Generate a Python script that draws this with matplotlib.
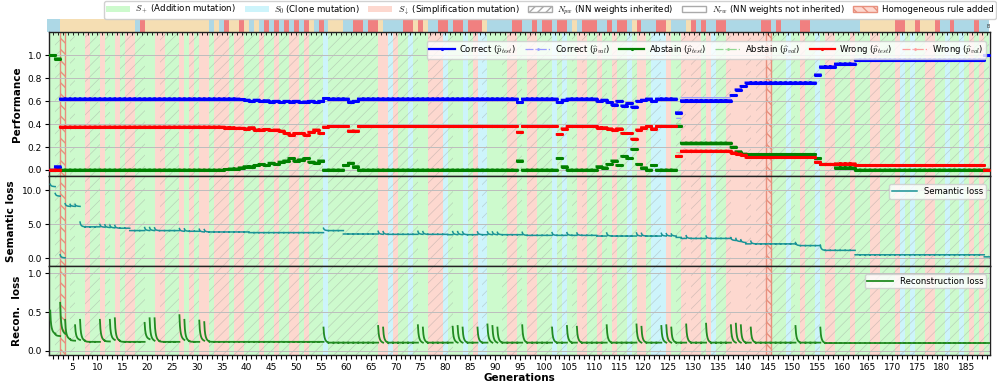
import numpy as np
import matplotlib
matplotlib.use("Agg")
import matplotlib.pyplot as plt
from matplotlib.patches import Patch
from matplotlib.lines import Line2D
from matplotlib.ticker import MultipleLocator, FormatStrFormatter

plt.rcParams['font.family'] = ['DejaVu Sans']
plt.rcParams['mathtext.fontset'] = 'cm'

# ---------------- data ----------------
generations = list(range(1, 190))

# background mutation type per generation: G = S+, C = S0, R = S_down
mutation_types = ("GGGGGGGRGG" "RGGRGRRGGG" "GRRGGGRGRG" "RRGRRRGRRG" "GGRGGRGGRR"
                  "GRGGGCGGGG" "GGGGGGRRCR" "GGCGGGRRRC" "GGGCGRCCGG" "GGRRGGRRGG"
                  "GCGCGGRRGG" "RGGRGGCGRR" "GCCCRGGRRR" "RGRCGGRRRR" "RRRRRGGGCG"
                  "GRGGCGRRGG" "GRGGGRRGGG" "RCGCGGRRGG" "CGGCGRGRG")
# top strip category per generation
strip_types = ("BBWWWWWWWW" "WWWWWWWBCW" "WWWWWWWWWW" "WWBWBCWWCW" "BWBCBCBCBC"
               "BCWBCBWWWB" "BCCBCCWBBB" "BCCWCWBBCC" "BCCBCCCWBB" "BBBCCBBCBC"
               "CBCCBWBCCC" "BBCBCCBWCB" "BBCCWBBBWC" "BCBBCCBBBB" "BBBCCBCBBB"
               "BCCBBBBBBB" "BBBWWWWWWW" "CCWWCWWWCB" "BCBBBBCBB")
homogeneous_gens = [3, 145]

correct_test = ([0.00, 0.03] + [0.62] * 36
                + [0.615, 0.61, 0.60, 0.61, 0.60, 0.605, 0.595, 0.60, 0.59, 0.60, 0.595, 0.60, 0.59, 0.595, 0.60, 0.59, 0.60]
                + [0.625, 0.62, 0.62, 0.62, 0.62, 0.595, 0.60, 0.62, 0.62, 0.62, 0.62]
                + [0.62] * 28 + [0.59]
                + [0.62] * 7 + [0.59, 0.61] + [0.62] * 6
                + [0.60, 0.61, 0.59, 0.57, 0.60, 0.56, 0.58, 0.55, 0.60, 0.61]
                + [0.62, 0.60, 0.62, 0.62, 0.62, 0.62]
                + [0.50] + [0.605] * 10 + [0.65, 0.70, 0.73] + [0.76] * 14
                + [0.83, 0.90, 0.90, 0.90, 0.925, 0.925, 0.925, 0.925]
                + [0.96] * 26 + [1.0])
abstain_test = ([1.0, 0.97] + [0.0] * 33 + [0.005, 0.01, 0.01]
                + [0.02, 0.03, 0.03, 0.04, 0.05, 0.04, 0.06, 0.05, 0.07, 0.08, 0.10, 0.08, 0.09, 0.10, 0.07, 0.06, 0.08]
                + [0.0, 0.0, 0.0, 0.0, 0.04, 0.06, 0.03, 0.0, 0.0, 0.0, 0.0]
                + [0.0] * 28 + [0.08]
                + [0.0] * 7 + [0.10, 0.03] + [0.0] * 6
                + [0.03, 0.02, 0.05, 0.08, 0.04, 0.12, 0.10, 0.18, 0.05, 0.02]
                + [0.0, 0.04, 0.0, 0.0, 0.0, 0.0]
                + [0.38] + [0.235] * 10 + [0.20, 0.16, 0.14] + [0.135] * 14
                + [0.10, 0.05, 0.05, 0.05, 0.02, 0.02, 0.02, 0.02]
                + [0.0] * 26 + [0.0])
wrong_test = ([0.0, 0.0] + [0.375] * 33 + [0.37, 0.37, 0.365]
              + [0.365, 0.36, 0.37, 0.35, 0.35, 0.355, 0.345, 0.35, 0.34, 0.32, 0.305, 0.32, 0.32, 0.305, 0.33, 0.35, 0.32]
              + [0.375, 0.38, 0.38, 0.38, 0.38, 0.34, 0.34, 0.38, 0.38, 0.38, 0.38]
              + [0.38] * 28 + [0.33]
              + [0.38] * 7 + [0.31, 0.36] + [0.38] * 6
              + [0.37, 0.37, 0.36, 0.35, 0.36, 0.32, 0.32, 0.27, 0.35, 0.37]
              + [0.38, 0.36, 0.38, 0.38, 0.38, 0.38]
              + [0.12] + [0.165] * 10 + [0.15, 0.14, 0.13] + [0.11] * 14
              + [0.07, 0.05, 0.05, 0.05, 0.055, 0.055, 0.055, 0.055]
              + [0.04] * 26 + [0.0])
correct_val = correct_test[:126] + [0.45] + [0.63] * 10 + correct_test[137:]
abstain_val = abstain_test[:126] + [0.40] + [0.215] * 10 + abstain_test[137:]
wrong_val = wrong_test[:126] + [0.15] + [0.155] * 10 + wrong_test[137:]

sem_floor = ([10.5, 9.1, 0.05, 7.6, 7.6, 7.6, 4.6, 4.6, 4.6, 4.6]
             + [4.55, 4.5, 4.45, 4.4, 4.4, 4.4] + [4.05] * 10
             + [3.95] * 4 + [3.85] * 10 + [3.75] * 15
             + [4.05] * 4 + [3.55] * 7
             + [3.5] * 14 + [3.45] * 15 + [3.35] * 15
             + [3.25] * 16 + [3.05] + [2.9] * 10
             + [2.6, 2.45, 2.3] + [2.1] * 10 + [1.85] * 5 + [1.15] * 7
             + [0.5] * 26 + [0.2])
sem_spike_gens = [1, 2, 3, 4, 5, 6, 7, 11, 12, 13, 14, 20, 21, 22, 27, 28, 31, 32, 56, 67, 68, 75, 76,
                  82, 83, 84, 87, 89, 90, 91, 96, 102, 105, 107, 113, 119, 120, 124, 125, 126, 129,
                  133, 138, 139, 140, 142, 151, 156]
sem_spike_peaks = [10.85, 9.5, 0.5, 8.0, 7.9, 7.9, 5.3, 4.95, 4.9, 4.85, 4.8, 4.5, 4.5, 4.45, 4.35, 4.3,
                   4.25, 4.2, 4.4, 3.95, 3.9, 3.95, 3.9, 3.9, 3.9, 3.85, 3.85, 3.85, 3.85, 3.8, 3.8, 3.75,
                   3.75, 3.7, 3.7, 3.7, 3.65, 3.65, 3.6, 3.55, 3.3, 3.25, 3.0, 2.9, 2.7, 2.5, 2.3, 1.9]

recon_floor = ([0.22, 0.19, 0.22, 0.15, 0.13, 0.14, 0.13] + [0.115] * 3
               + [0.13, 0.12, 0.14, 0.13] + [0.115] * 5
               + [0.15, 0.13, 0.125] + [0.115] * 4
               + [0.14, 0.125, 0.115, 0.115]
               + [0.13, 0.12] + [0.115] * 23
               + [0.105] * 100 + [0.10] * 34)
recon_spike_gens = [1, 3, 4, 6, 7, 11, 13, 14, 20, 21, 22, 27, 28, 31, 32, 56, 67, 68, 75, 76, 82, 83,
                    84, 87, 89, 90, 91, 96, 102, 105, 107, 113, 119, 120, 124, 125, 126, 129, 133,
                    138, 139, 140, 142, 151, 156]
recon_spike_peaks = [0.52, 0.62, 0.40, 0.33, 0.40, 0.40, 0.40, 0.42, 0.36, 0.42, 0.42, 0.46, 0.40,
                     0.39, 0.37, 0.30, 0.32, 0.30, 0.33, 0.30, 0.31, 0.32, 0.30, 0.30, 0.34, 0.32,
                     0.30, 0.33, 0.30, 0.32, 0.31, 0.33, 0.34, 0.31, 0.32, 0.33, 0.30, 0.34, 0.35,
                     0.33, 0.35, 0.33, 0.30, 0.32, 0.30]

# shape of a training curve inside one generation (fraction of gen, normalised height)
profile_frac = [0.0, 0.05, 0.1, 0.2, 0.3, 0.45, 0.6, 0.8, 1.0]
profile_val = [1.0, 0.75, 0.57, 0.37, 0.25, 0.14, 0.08, 0.03, 0.0]

# ---------------- styles ----------------
bg_colors = {'G': '#cdfacd', 'C': '#cdf4fb', 'R': '#fdd8cf'}
strip_colors = {'B': '#add8e6', 'W': '#f5deb3', 'C': '#f08080'}
homog_color = '#e8907e'

W, H = 997, 392
fig = plt.figure(figsize=(W / 100, H / 100), dpi=100)


def rect(x0, y0, x1, y1):
    return [x0 / W, 1 - y1 / H, (x1 - x0) / W, (y1 - y0) / H]


XL = (0.25, 189.65)
ax_s = fig.add_axes(rect(46.7, 19, 990, 32))
ax_p = fig.add_axes(rect(49, 32.3, 990, 175.7))
ax_l = fig.add_axes(rect(49, 175.7, 990, 265.7), sharex=ax_p)
ax_r = fig.add_axes(rect(49, 265.7, 990, 355), sharex=ax_p)

# strip
for g, t in zip(generations, strip_types):
    ax_s.axvspan(g - 0.5 if g > 1 else -1.0, g + 0.5, color=strip_colors[t], lw=0)
ax_s.set_xlim(XL[0] - 2.3 / 4.967, XL[1])
ax_s.set_ylim(0, 1)
ax_s.axis('off')
ax_s.text(189.2, 0.45, 'B', fontsize=3.5, ha='center', va='center', color='#333333')

spike_set = set(recon_spike_gens)
for ax in (ax_p, ax_l, ax_r):
    for g, t in zip(generations, mutation_types):
        p = ax.axvspan(g - 0.5, g + 0.5, facecolor=bg_colors[t],
                       edgecolor=(0.55, 0.55, 0.55, 0.35),
                       hatch=None if g in spike_set else '///', lw=0, zorder=0)
        if hasattr(p, 'set_hatch_linewidth'):
            p.set_hatch_linewidth(0.5)
    for g in homogeneous_gens:
        p = ax.axvspan(g - 0.5, g + 0.5, facecolor='none', edgecolor=homog_color,
                       hatch='\\\\\\', lw=1.0, zorder=1.3)
        if hasattr(p, 'set_hatch_linewidth'):
            p.set_hatch_linewidth(1.0)
    ax.grid(axis='y', color='#bdbdbd', lw=0.7)
    for sp in ax.spines.values():
        sp.set_linewidth(1.0)
        sp.set_color('#222222')


def perf_xy(values):
    offs = np.linspace(-0.5, 0.5, 6)
    xs, ys = [], []
    for g, v in zip(generations, values):
        xs.extend(g + offs)
        ys.extend([v] * len(offs))
        xs.append(np.nan)
        ys.append(np.nan)
    return xs, ys


def loss_xy(floor, spike_gens, spike_peaks, carry):
    peaks = dict(zip(spike_gens, spike_peaks))
    fr = np.array(profile_frac)
    pv = np.array(profile_val)
    xs, ys = [], []
    for i, g in enumerate(generations):
        end = floor[i]
        if g in peaks:
            start = peaks[g]
        elif carry and i > 0:
            start = floor[i - 1]
        else:
            start = end
        xs.extend(g - 0.5 + fr)
        ys.extend(end + (start - end) * pv)
        xs.append(np.nan)
        ys.append(np.nan)
    return xs, ys


series = [
    ('Correct ($\\widehat{p}_{test}$)', correct_test, 'blue', 'test'),
    ('Correct ($\\widehat{p}_{val}$)', correct_val, '#9b9bff', 'val'),
    ('Abstain ($\\widehat{p}_{test}$)', abstain_test, '#008000', 'test'),
    ('Abstain ($\\widehat{p}_{val}$)', abstain_val, '#92d892', 'val'),
    ('Wrong ($\\widehat{p}_{test}$)', wrong_test, 'red', 'test'),
    ('Wrong ($\\widehat{p}_{val}$)', wrong_val, '#ff9c9c', 'val'),
]
handles = []
for label, vals, col, kind in series:
    x, y = perf_xy(vals)
    if kind == 'test':
        ax_p.plot(x, y, color=col, lw=1.8, marker='.', ms=2.5, zorder=3)
        handles.append(Line2D([], [], color=col, lw=1.6, marker='.', ms=2.5, label=label))
    else:
        ax_p.plot(x, y, color=col, lw=0.9, ls='-.', zorder=2.5)
        handles.append(Line2D([], [], color=col, lw=0.9, ls='-.', marker='.', ms=2, label=label))

ax_p.set_ylim(-0.05, 1.2)
ax_p.set_yticks([0, 0.2, 0.4, 0.6, 0.8, 1.0])
ax_p.yaxis.set_major_formatter(FormatStrFormatter('%.1f'))
ax_p.set_ylabel('Performance', fontsize=7.5, fontweight='bold')
ax_p.legend(handles=handles, loc='upper right', ncol=6, fontsize=6.1, handlelength=3.0,
            columnspacing=1.1, handletextpad=0.5, borderpad=0.3, framealpha=0.8,
            bbox_to_anchor=(1.0, 0.97))

x, y = loss_xy(sem_floor, sem_spike_gens, sem_spike_peaks, carry=False)
ax_l.plot(x, y, color='#1a9396', lw=1.1, zorder=3, label='Semantic loss')
ax_l.set_ylim(-1.1, 12.1)
ax_l.set_yticks([0, 5, 10])
ax_l.yaxis.set_major_formatter(FormatStrFormatter('%.1f'))
ax_l.set_ylabel('Semantic loss', fontsize=7.5, fontweight='bold')
ax_l.legend(loc='upper right', fontsize=6.1, handlelength=3.0, borderpad=0.3, framealpha=0.8,
            bbox_to_anchor=(1.0, 0.95))

x, y = loss_xy(recon_floor, recon_spike_gens, recon_spike_peaks, carry=True)
ax_r.plot(x, y, color='#228b22', lw=1.3, zorder=3, label='Reconstruction loss')
ax_r.set_ylim(-0.055, 1.1)
ax_r.set_yticks([0, 0.5, 1.0])
ax_r.yaxis.set_major_formatter(FormatStrFormatter('%.1f'))
ax_r.set_ylabel('Recon.  loss', fontsize=7.5, fontweight='bold')
ax_r.legend(loc='upper right', fontsize=6.1, handlelength=3.0, borderpad=0.3, framealpha=0.8,
            bbox_to_anchor=(1.0, 0.95))

ax_p.set_xlim(*XL)
ax_r.xaxis.set_major_locator(MultipleLocator(5))
ax_r.xaxis.set_minor_locator(MultipleLocator(1))
ax_r.set_xlabel('Generations', fontsize=7.5, fontweight='bold', labelpad=1)
ax_r.tick_params(axis='x', which='major', length=3.5, width=0.8, labelsize=6.5, pad=2)
ax_r.tick_params(axis='x', which='minor', length=3, width=0.8)
ax_p.tick_params(axis='x', which='both', bottom=False, labelbottom=False, top=True,
                 direction='in', length=2, width=0.6)
ax_l.tick_params(axis='x', which='both', bottom=False, labelbottom=False)
for ax in (ax_p, ax_l, ax_r):
    ax.tick_params(axis='y', length=3, width=0.8, labelsize=6.5, pad=2)
fig.align_ylabels([ax_p, ax_l, ax_r])

legend_handles = [
    Patch(facecolor=bg_colors['G'], edgecolor='none', label='$S_+$ (Addition mutation)'),
    Patch(facecolor=bg_colors['C'], edgecolor='none', label='$S_0$ (Clone mutation)'),
    Patch(facecolor=bg_colors['R'], edgecolor='none', label='$S_\\downarrow$ (Simplification mutation)'),
    Patch(facecolor='white', edgecolor='#aaaaaa', hatch='////', label='$N_{pw}$ (NN weights inherited)'),
    Patch(facecolor='white', edgecolor='#aaaaaa', label='$N_{rw}$ (NN weights not inherited)'),
    Patch(facecolor=bg_colors['R'], edgecolor=homog_color, hatch='\\\\\\', label='Homogeneous rule added'),
]
fig.legend(handles=legend_handles, loc='upper right', bbox_to_anchor=(996 / W, 1 - 1 / H), ncol=6,
           fontsize=6.2, handlelength=2.8, handleheight=0.6, columnspacing=1.0, handletextpad=0.6,
           borderpad=0.25, borderaxespad=0.0, framealpha=0.9)

fig.savefig('out.png', dpi=100)
